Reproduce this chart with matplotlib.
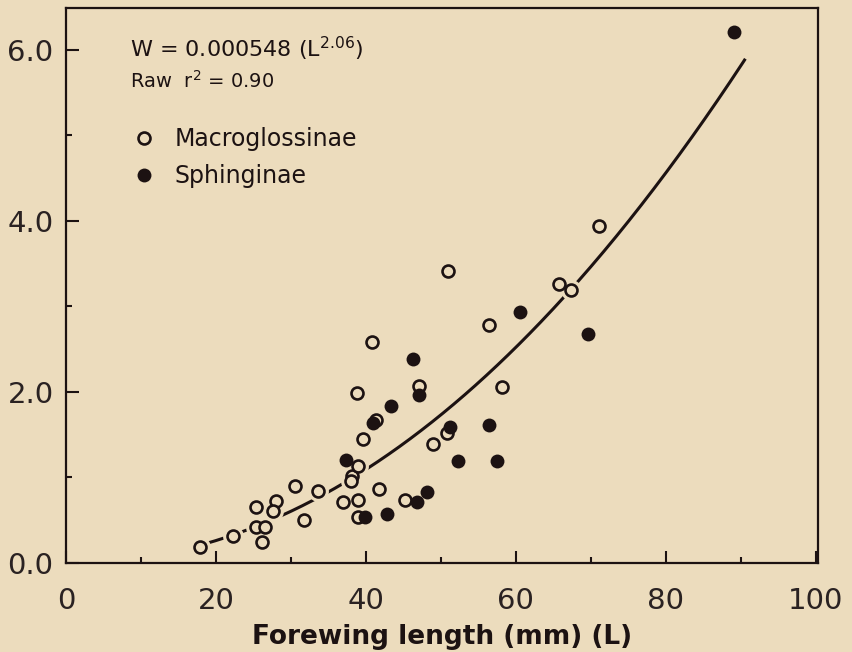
import numpy as np
import matplotlib.pyplot as plt
from matplotlib.lines import Line2D

# fitted power curve, as printed on the figure
coef_a = 0.000548
coef_b = 2.06
fit_lo, fit_hi = 18.5, 90.5

# Macroglossinae (open circles): forewing length (mm), weight
macro_L = [17.9, 22.3, 25.3, 25.4, 26.5, 26.1, 28.0, 27.6, 30.5, 31.7, 33.6,
           37.0, 38.9, 38.1, 38.0, 38.9, 39.6, 41.4, 38.8, 41.8, 39.0, 40.8,
           47.1, 56.4, 58.2, 50.8, 49.0, 45.2, 50.9, 65.8, 67.3, 71.1]
macro_W = [0.19, 0.32, 0.65, 0.42, 0.42, 0.24, 0.72, 0.61, 0.90, 0.50, 0.84,
           0.71, 0.74, 1.02, 0.96, 1.13, 1.45, 1.67, 1.99, 0.87, 0.54, 2.58,
           2.07, 2.78, 2.06, 1.52, 1.39, 0.74, 3.42, 3.26, 3.19, 3.94]

# Sphinginae (filled circles)
sphin_L = [37.3, 40.9, 43.3, 39.9, 42.8, 46.3, 47.1, 60.5, 51.2, 56.4, 52.3,
           57.5, 46.8, 48.2, 69.6, 89.1]
sphin_W = [1.20, 1.64, 1.84, 0.54, 0.57, 2.39, 1.96, 2.93, 1.59, 1.61, 1.19,
           1.19, 0.71, 0.83, 2.68, 6.21]

x_ticks = [0, 20, 40, 60, 80, 100]
y_ticks = [0.0, 2.0, 4.0, 6.0]

bg = "#ecdcbd"
ink = "#1c1212"


def main():
    plt.rcParams["font.family"] = ["DejaVu Sans"]
    plt.rcParams["mathtext.default"] = "regular"

    fig = plt.figure(figsize=(8.53, 6.52), dpi=100, facecolor=bg)
    ax = fig.add_axes([66 / 853, 89 / 652, 752 / 853, 555 / 652], facecolor=bg)

    # curve
    L = np.linspace(fit_lo, fit_hi, 300)
    ax.plot(L, coef_a * L ** coef_b, color=ink, lw=2.2, zorder=1)

    # background halos so the curve breaks around the points
    allL = macro_L + sphin_L
    allW = macro_W + sphin_W
    ax.plot(allL, allW, "o", ms=15, mfc=bg, mec=bg, mew=0, ls="none", zorder=2)

    ax.plot(macro_L, macro_W, "o", ms=8.6, mfc=bg, mec=ink, mew=1.9,
            ls="none", zorder=3)
    ax.plot(sphin_L, sphin_W, "o", ms=10, mfc=ink, mec=ink, mew=0,
            ls="none", zorder=4)

    ax.set_xlim(0, 100.3)
    ax.set_ylim(0, 6.49)
    ax.set_xticks(x_ticks)
    ax.set_xticks([10, 30, 50, 70, 90], minor=True)
    ax.set_yticks(y_ticks)
    ax.set_yticks([1.0, 3.0, 5.0], minor=True)
    ax.set_xticklabels([str(t) for t in x_ticks])
    ax.set_yticklabels([f"{t:.1f}" for t in y_ticks])

    ax.tick_params(which="both", direction="in", color=ink, width=1.5,
                   labelsize=21, labelcolor="#2a2222")
    ax.tick_params(which="major", length=9)
    ax.tick_params(which="minor", length=4.5)
    ax.tick_params(axis="x", which="both", pad=17)
    ax.tick_params(axis="y", which="both", pad=9)
    for s in ax.spines.values():
        s.set_color(ink)
        s.set_linewidth(1.6)

    ax.set_xlabel("Forewing length (mm) (L)", fontsize=19, fontweight="bold",
                  color=ink, labelpad=7)

    ax.text(0.085, 0.912, "W = 0.000548 (L$^{2.06}$)", transform=ax.transAxes,
            fontsize=16, color=ink, va="baseline")
    ax.text(0.085, 0.857, "Raw  r$^{2}$ = 0.90", transform=ax.transAxes,
            fontsize=14, color=ink, va="baseline")

    handles = [
        Line2D([], [], marker="o", ls="none", ms=8.6, mfc=bg, mec=ink, mew=1.9),
        Line2D([], [], marker="o", ls="none", ms=10, mfc=ink, mec=ink, mew=0),
    ]
    ax.legend(handles, ["Macroglossinae", "Sphinginae"], loc="upper left",
              bbox_to_anchor=(0.094, 0.785), frameon=False, fontsize=17,
              handlelength=0.6, handletextpad=1.0, labelspacing=0.55,
              borderpad=0, borderaxespad=0, labelcolor=ink)

    fig.savefig("out.png", dpi=100, facecolor=bg)
    plt.close(fig)


if __name__ == "__main__":
    main()
